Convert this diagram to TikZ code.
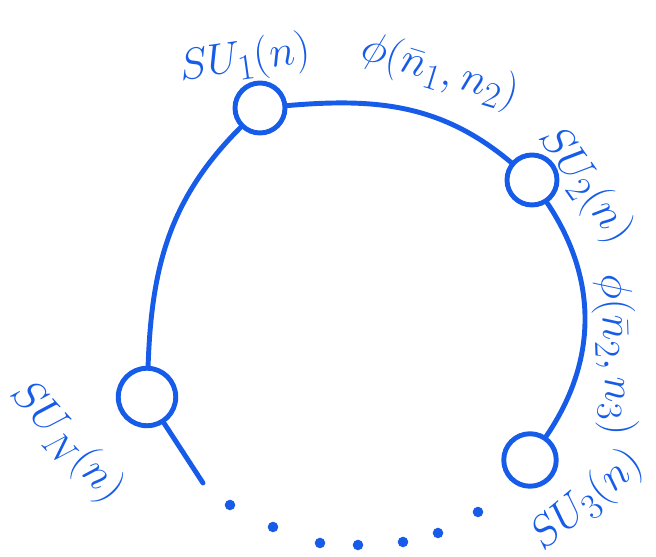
\documentclass[tikz,border=0pt]{standalone}
\usepackage{amsmath,amssymb}
\usepackage{xcolor}
\definecolor{inkblue}{RGB}{22,92,232}
\usepackage{tikz}
\usetikzlibrary{positioning, calc}

\begin{document}
\begin{tikzpicture}[
    gauge/.style={circle, draw=inkblue, line width=2.8pt, minimum size=1.0cm, inner sep=0pt},
    link/.style={draw=inkblue, line width=2.8pt, line cap=round},
    grouplabel/.style={font=\Huge, text=inkblue, inner sep=1pt},
    fieldlabel/.style={font=\Huge, text=inkblue, inner sep=1pt},
    trail/.style={circle, fill=inkblue, minimum size=6pt, inner sep=0pt},
  ]
    \useasboundingbox (0,0) rectangle (13.12,11.14);

    % --- Gauge nodes on the ring ---
    \node[gauge] (su1) at (5.20, 8.98) {};
    \node[gauge] (su2) at (10.64, 7.54) {};
    \node[gauge, minimum size=1.05cm] (su3) at (10.60, 1.94) {};
    \node[gauge, minimum size=1.15cm] (sun) at (2.94, 3.20) {};
    \coordinate (tail) at (4.06, 1.48);

    % --- Group labels ---
    \node[grouplabel, rotate=8]   (lab1) at (4.90, 9.94)  {$SU_1(n)$};
    \node[grouplabel, rotate=-55] (lab2) at (11.70, 7.44) {$SU_2(n)$};
    \node[grouplabel, rotate=40]  (lab3) at (11.74, 1.12) {$SU_3(n)$};
    \node[grouplabel, rotate=-48] (labn) at (1.34, 2.30)  {$SU_N(n)$};

    % --- Bifundamental fields ---
    \node[fieldlabel, rotate=-17] (phi12) at (8.80, 9.70) {$\phi(\bar{n}_1, n_2)$};
    \node[fieldlabel, rotate=-88] (phi23) at (12.30, 4.04) {$\phi(\bar{n}_2, n_3)$};

    % --- Links ---
    \draw[link] (su1) to[out=5, in=140] (su2);
    \draw[link] (su2) to[bend left=34] (su3);
    \draw[link] (sun) to[out=88, in=-135] (su1);
    \draw[link] (sun) -- (tail);

    % --- Dots closing the ring ---
    \foreach \i/\p in {1/{4.60,1.04}, 2/{5.46,0.60}, 3/{6.40,0.28}, 4/{7.16,0.24},
                       5/{8.06,0.30}, 6/{8.76,0.48}, 7/{9.56,0.90}} {
      \node[trail] (dot\i) at (\p) {};
    }
  \end{tikzpicture}
\end{document}
